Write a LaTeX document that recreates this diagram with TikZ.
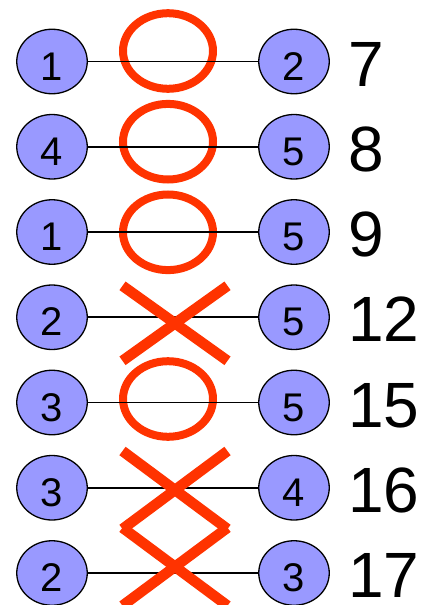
\documentclass[tikz,border=0pt]{standalone}
\usepackage{fontspec}
\setmainfont{Liberation Sans}
\usetikzlibrary{shapes.geometric}
\definecolor{nodefill}{RGB}{153,153,255}
\definecolor{markred}{RGB}{255,51,0}
\begin{document}
\begin{tikzpicture}[x=1pt,y=-1pt,
  vert/.style={ellipse,draw=black,line width=1.3pt,fill=nodefill,
    minimum width=70.5pt,minimum height=64.5pt,inner sep=0pt,
    font=\fontsize{40}{48}\selectfont,text height=37pt,text depth=0pt},
  edgeline/.style={line width=1.8pt},
  weight/.style={anchor=base west,inner sep=0pt,font=\fontsize{64}{76}\selectfont},
  okmark/.style={ellipse,draw=markred,line width=8pt,
    minimum width=90pt,minimum height=75.6pt,inner sep=0pt},
  ngmark/.style={draw=markred,line width=10.5pt}]
\useasboundingbox (0,0) rectangle (421,605);
% approval marks (circles)
\node[okmark] (ok1) at (168,51) {};
\node[okmark] (ok2) at (168,141.7) {};
\node[okmark] (ok3) at (168,232.3) {};
\node[okmark] (ok5) at (168,399) {};
% rows
\foreach \yy/\a/\b/\w [count=\i] in {61.5/1/2/7,146.75/4/5/8,232/1/5/9,317.25/2/5/12,402.5/3/5/15,487.75/3/4/16,573/2/3/17}{
  \node[vert] (L\i) at (52,\yy) {\a};
  \node[vert] (R\i) at (294,\yy) {\b};
  \draw[edgeline] (L\i) -- (R\i);
  \node[weight] (W\i) at (348,\yy+24.5) {\w};
}
% rejection marks (crosses)
\coordinate (ng4) at (175,323.3);
\coordinate (ng6) at (175,490);
\coordinate (ng7) at (175,566.7);
\draw[ngmark] ([shift={(-52.5,-37.5)}]ng4) -- ([shift={(52.5,37.5)}]ng4);
\draw[ngmark] ([shift={(52.5,-37.5)}]ng4) -- ([shift={(-52.5,37.5)}]ng4);
\draw[ngmark] ([shift={(-52.5,-39)}]ng6) -- ([shift={(52.5,39)}]ng6);
\draw[ngmark] ([shift={(52.5,-39)}]ng6) -- ([shift={(-52.5,39)}]ng6);
\draw[ngmark] ([shift={(-52.5,-39)}]ng7) -- ([shift={(52.5,39)}]ng7);
\draw[ngmark] ([shift={(52.5,-39)}]ng7) -- ([shift={(-52.5,39)}]ng7);
\end{tikzpicture}
\end{document}
